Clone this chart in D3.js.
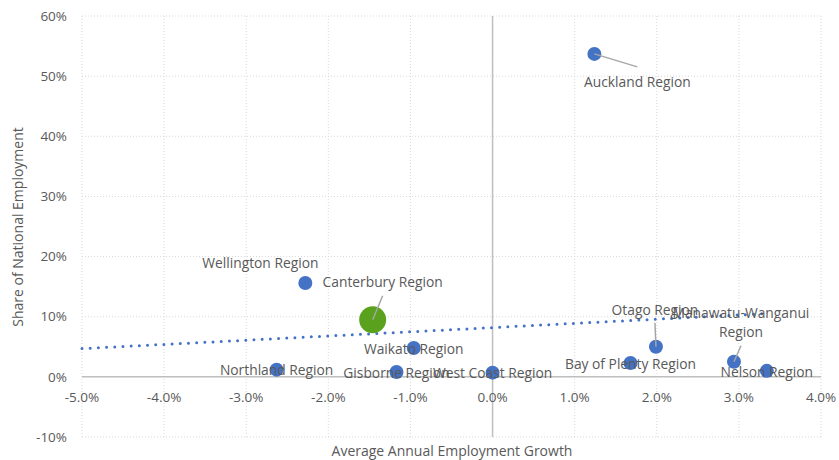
<!DOCTYPE html>
<html>
  <head>
    <meta charset="UTF-8" />
    <title>Regional employment</title>
    <style>
      body { margin: 0; background: #fff; }
      text { font-family: "Open Sans", sans-serif; fill: #595959; }
    </style>
    <script src="https://d3js.org/d3.v7.min.js"></script>
  </head>
  <body>
    <svg id="viz" width="839" height="460"></svg>
    <script type="text/javascript">
      // values (x = growth %, y = share %)
      var regions = [
        "Auckland Region",
        "Wellington Region",
        "Canterbury Region",
        "Waikato Region",
        "Northland Region",
        "Gisborne Region",
        "West Coast Region",
        "Bay of Plenty Region",
        "Otago Region",
        "Manawatu-Wanganui Region",
        "Nelson Region",
      ];
      var growth = [1.24, -2.28, -1.46, -0.96, -2.63, -1.17, 0.0, 1.68, 1.99, 2.94, 3.34];
      var share = [53.7, 15.6, 9.5, 4.8, 1.2, 0.8, 0.7, 2.3, 5.0, 2.5, 1.0];

      var xTicks = [-5, -4, -3, -2, -1, 0, 1, 2, 3, 4];
      var yTicks = [-10, 0, 10, 20, 30, 40, 50, 60];

      // trendline end points as drawn
      var trendX = [-5, 3.3];
      var trendY = [4.7, 10.5];

      var highlight = "Canterbury Region";

      // label placement: offset of label centre from point, optional leader end
      var labelPos = {
        "Auckland Region": { dx: 43, dy: 28, lead: [43, 13] },
        "Wellington Region": { dx: -45, dy: -20 },
        "Canterbury Region": { dx: 10, dy: -38, lead: [10, -24] },
        "Waikato Region": { dx: 0, dy: 1 },
        "Northland Region": { dx: 0, dy: 1 },
        "Gisborne Region": { dx: 0, dy: 1 },
        "West Coast Region": { dx: 0, dy: 1 },
        "Bay of Plenty Region": { dx: 0, dy: 1 },
        "Otago Region": { dx: -1, dy: -37, lead: [-1, -24] },
        "Manawatu-Wanganui Region": { dx: 7, dy: -49, lines: ["Manawatu-Wanganui", "Region"], lead: [7, -16] },
        "Nelson Region": { dx: 0, dy: 1 },
      };

      var data = regions.map((r, i) => ({ name: r, x: growth[i], y: share[i] }));

      var svg = d3.select("#viz");
      var x = d3.scaleLinear().domain([-5, 4]).range([82, 821]);
      var y = d3.scaleLinear().domain([-10, 60]).range([437, 16]);

      // grid
      svg.append("g")
        .selectAll("line")
        .data(xTicks)
        .join("line")
        .attr("x1", (d) => x(d)).attr("x2", (d) => x(d))
        .attr("y1", y(60)).attr("y2", y(-10))
        .attr("stroke", "#d9d9d9").attr("stroke-dasharray", "1,2");
      svg.append("g")
        .selectAll("line")
        .data(yTicks)
        .join("line")
        .attr("x1", x(-5)).attr("x2", x(4))
        .attr("y1", (d) => y(d)).attr("y2", (d) => y(d))
        .attr("stroke", "#d9d9d9").attr("stroke-dasharray", "1,2");

      // zero axes
      svg.append("line")
        .attr("x1", x(-5)).attr("x2", x(4)).attr("y1", y(0)).attr("y2", y(0))
        .attr("stroke", "#bfbfbf").attr("stroke-width", 1.5);
      svg.append("line")
        .attr("x1", x(0)).attr("x2", x(0)).attr("y1", y(60)).attr("y2", y(-10))
        .attr("stroke", "#bfbfbf").attr("stroke-width", 1.5);

      // tick labels
      svg.append("g")
        .selectAll("text")
        .data(xTicks)
        .join("text")
        .attr("x", (d) => x(d)).attr("y", y(0) + 20).attr("dy", "0.35em")
        .attr("text-anchor", "middle").attr("font-size", 13.5)
        .text((d) => d.toFixed(1) + "%");
      svg.append("g")
        .selectAll("text")
        .data(yTicks)
        .join("text")
        .attr("x", 67).attr("y", (d) => y(d)).attr("dy", "0.35em")
        .attr("text-anchor", "end").attr("font-size", 13.5)
        .text((d) => d + "%");

      // axis titles
      svg.append("text")
        .attr("x", 452).attr("y", 451).attr("dy", "0.35em")
        .attr("text-anchor", "middle").attr("font-size", 14)
        .text("Average Annual Employment Growth");
      svg.append("text")
        .attr("transform", "translate(18,227) rotate(-90)")
        .attr("dy", "0.35em")
        .attr("text-anchor", "middle").attr("font-size", 14)
        .text("Share of National Employment");

      // trendline
      svg.append("line")
        .attr("x1", x(trendX[0])).attr("y1", y(trendY[0]))
        .attr("x2", x(trendX[1])).attr("y2", y(trendY[1]))
        .attr("stroke", "#4472c4").attr("stroke-width", 3)
        .attr("stroke-linecap", "round").attr("stroke-dasharray", "0,8.2");

      // points
      svg.append("g")
        .selectAll("circle")
        .data(data)
        .join("circle")
        .attr("cx", (d) => x(d.x)).attr("cy", (d) => y(d.y))
        .attr("r", (d) => (d.name === highlight ? 13.5 : 7))
        .attr("fill", (d) => (d.name === highlight ? "#5aa11e" : "#4472c4"));

      // leader lines
      svg.append("g")
        .selectAll("line")
        .data(data.filter((d) => labelPos[d.name].lead))
        .join("line")
        .attr("x1", (d) => x(d.x)).attr("y1", (d) => y(d.y))
        .attr("x2", (d) => x(d.x) + labelPos[d.name].lead[0])
        .attr("y2", (d) => y(d.y) + labelPos[d.name].lead[1])
        .attr("stroke", "#a6a6a6").attr("stroke-width", 1.5);

      // data labels
      var lbl = svg.append("g")
        .selectAll("text")
        .data(data)
        .join("text")
        .attr("text-anchor", "middle").attr("font-size", 13.8)
        .attr("x", (d) => x(d.x) + labelPos[d.name].dx)
        .attr("y", (d) => y(d.y) + labelPos[d.name].dy)
        .attr("dy", "0.35em");
      lbl.each(function (d) {
        var p = labelPos[d.name];
        var t = d3.select(this);
        if (p.lines) {
          p.lines.forEach((s, i) => {
            t.append("tspan")
              .attr("x", x(d.x) + p.dx)
              .attr("dy", i === 0 ? "0.35em" : 19)
              .text(s);
          });
          t.attr("dy", null);
        } else {
          t.text(d.name);
        }
      });
    </script>
  </body>
</html>
